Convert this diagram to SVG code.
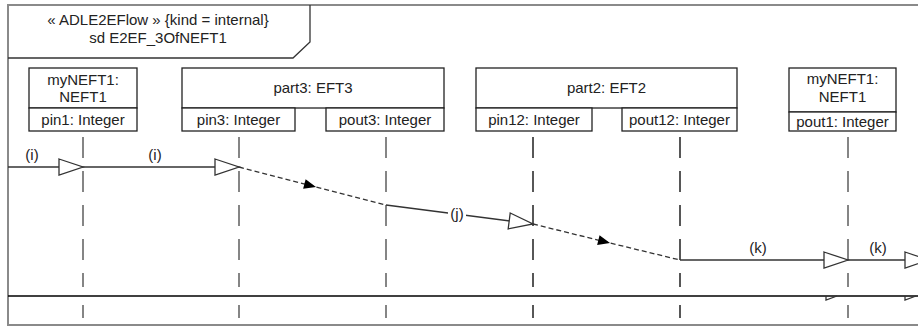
<svg xmlns="http://www.w3.org/2000/svg" width="918" height="327" viewBox="0 0 918 327">
<style>
text{font-family:"Liberation Sans",Arial,sans-serif;font-size:15px;fill:#222;text-anchor:middle}
.box{fill:#fff;stroke:#222;stroke-width:1.3}
.frame{fill:none;stroke:#8a8a8a;stroke-width:2}
.llg{stroke:#858585;stroke-width:2;stroke-dasharray:21 13;fill:none}
.llb{stroke:#111;stroke-width:1.4;stroke-dasharray:21 13;fill:none}
.msg{stroke:#333;stroke-width:1.3;fill:none}
.dmsg{stroke:#333;stroke-width:1.3;fill:none;stroke-dasharray:5 3}
</style>
<defs>
<marker id="open" markerUnits="userSpaceOnUse" markerWidth="26" markerHeight="18" refX="24" refY="8" orient="auto" overflow="visible">
<path d="M0,0 L24,8 L0,16 Z" fill="#fff" stroke="#333" stroke-width="1.3"/>
</marker>
<marker id="filled" markerUnits="userSpaceOnUse" markerWidth="14" markerHeight="12" refX="12" refY="5" orient="auto" overflow="visible">
<path d="M0,0 L12,5 L0,10 Z" fill="#000"/>
</marker>
</defs>
<rect width="918" height="327" fill="#fff"/>
<g id="frame">
<path class="frame" d="M918,5 H8 V325 H918"/>
<line x1="8" y1="296" x2="918" y2="296" stroke="#000" stroke-width="1.5"/>
<path d="M8,58 H293 L310,42 V5" fill="none" stroke="#333" stroke-width="1.3"/>
<text x="158" y="25">« ADLE2EFlow » {kind = internal}</text>
<text x="158" y="43">sd E2EF_3OfNEFT1</text>
</g>
<g id="myNEFT1_left">
<rect class="box" x="29" y="68" width="108" height="40"/>
<rect class="box" x="29" y="108" width="108" height="23"/>
<text x="83" y="85">myNEFT1:</text>
<text x="83" y="102">NEFT1</text>
<text x="83" y="125">pin1: Integer</text>
<path class="llg" d="M83,137 V287 M83,305 V318"/>
</g>
<g id="part3">
<rect class="box" x="182" y="68" width="262" height="40"/>
<rect class="box" x="182" y="108" width="113" height="23"/>
<rect class="box" x="326" y="108" width="118" height="23"/>
<text x="313" y="93">part3: EFT3</text>
<text x="238.5" y="125">pin3: Integer</text>
<text x="385" y="125">pout3: Integer</text>
<path class="llg" d="M239,137 V287 M239,305 V318"/>
<path class="llg" d="M386,137 V287 M386,305 V318"/>
</g>
<g id="part2">
<rect class="box" x="476" y="68" width="261" height="40"/>
<rect class="box" x="476" y="108" width="116" height="23"/>
<rect class="box" x="622" y="108" width="115" height="23"/>
<text x="606.5" y="93">part2: EFT2</text>
<text x="534" y="125">pin12: Integer</text>
<text x="679.5" y="125">pout12: Integer</text>
<path class="llb" d="M533,137 V287 M533,305 V318"/>
<path class="llb" d="M680,137 V287 M680,305 V318"/>
</g>
<g id="myNEFT1_right">
<rect class="box" x="789" y="68" width="107" height="44"/>
<rect class="box" x="789" y="112" width="107" height="19"/>
<text x="842.5" y="84">myNEFT1:</text>
<text x="842.5" y="102">NEFT1</text>
<text x="842.5" y="127">pout1: Integer</text>
<path class="llg" d="M848,137 V287 M848,305 V318"/>
</g>
<g id="connectors">
<line class="msg" x1="8" y1="167" x2="83" y2="167" marker-end="url(#open)"/>
<text x="32" y="160">(i)</text>
<line class="msg" x1="83" y1="167" x2="239" y2="167" marker-end="url(#open)"/>
<text x="155" y="160">(i)</text>
<polyline class="dmsg" points="239,167 316,187 386,205" marker-mid="url(#filled)"/>
<line class="msg" x1="386" y1="205" x2="533" y2="224" marker-end="url(#open)"/>
<rect x="448" y="206" width="18" height="17" fill="#fff"/>
<text x="457" y="219">(j)</text>
<polyline class="dmsg" points="533,224 610,243 680,260" marker-mid="url(#filled)"/>
<line class="msg" x1="680" y1="260" x2="848" y2="260" marker-end="url(#open)"/>
<text x="758" y="253">(k)</text>
<line class="msg" x1="848" y1="260" x2="929" y2="260" marker-end="url(#open)"/>
<text x="878" y="253">(k)</text>
<path class="msg" d="M826,296 V300 L837,296 M905,296 V300 L916,296"/>
</g>
</svg>
